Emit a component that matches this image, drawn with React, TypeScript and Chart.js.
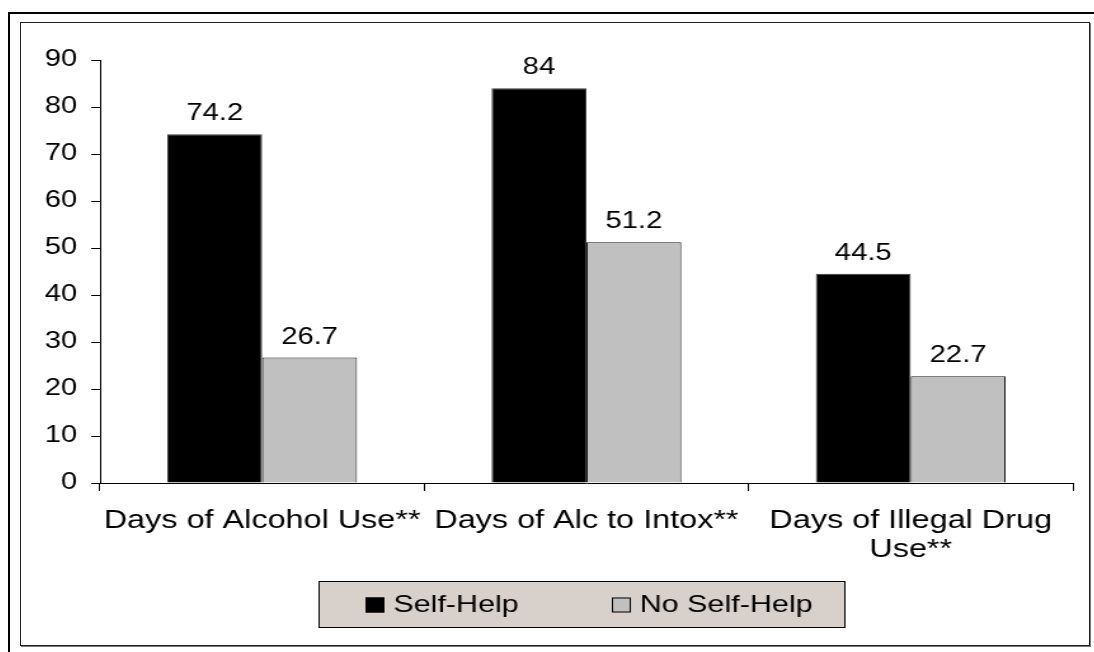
import React, { useEffect, useRef } from "react";
import { Chart, registerables } from "chart.js";

Chart.register(...registerables);

// ---- data ----
const categories: (string | string[])[] = [
  "Days of Alcohol Use**",
  "Days of Alc to Intox**",
  ["Days of Illegal Drug", "Use**"],
];
const seriesNames = ["Self-Help", "No Self-Help"];
const selfHelp = [74.2, 84, 44.5];
const noSelfHelp = [26.7, 51.2, 22.7];
const yMin = 0;
const yMax = 90;
const yStep = 10;

// ---- styling ----
const FONT = "'Liberation Sans', Arial, Helvetica, sans-serif";
const SX = 1.27; // horizontal stretch of the original picture
const CW = 843;
const CH = 624;

const valueLabels = {
  id: "valueLabels",
  afterDatasetsDraw(chart: any) {
    const ctx = chart.ctx;
    ctx.save();
    ctx.font = `23px ${FONT}`;
    ctx.fillStyle = "#000";
    ctx.textAlign = "center";
    ctx.textBaseline = "alphabetic";
    chart.data.datasets.forEach((ds: any, di: number) => {
      const meta = chart.getDatasetMeta(di);
      meta.data.forEach((el: any, i: number) => {
        ctx.fillText(String(ds.data[i]), el.x, el.y - 14);
      });
    });
    ctx.restore();
  },
};

const boxedLegend = {
  id: "boxedLegend",
  afterDraw(chart: any) {
    const ctx = chart.ctx;
    const boxL = 235, boxR = 650, boxT = 559, boxB = 606;
    ctx.save();
    ctx.fillStyle = "#D8D0CA";
    ctx.fillRect(boxL, boxT, boxR - boxL, boxB - boxT);
    ctx.strokeStyle = "#000";
    ctx.lineWidth = 1;
    ctx.strokeRect(boxL + 0.5, boxT + 0.5, boxR - boxL - 1, boxB - boxT - 1);
    const cy = (boxT + boxB) / 2;
    const itemX = [272, 466];
    ctx.font = `24px ${FONT}`;
    ctx.textBaseline = "middle";
    ctx.textAlign = "left";
    chart.data.datasets.forEach((ds: any, di: number) => {
      const x = itemX[di];
      ctx.fillStyle = ds.backgroundColor;
      ctx.fillRect(x, cy - 7, 15, 15);
      ctx.strokeStyle = "#000";
      ctx.strokeRect(x + 0.5, cy - 6.5, 14, 14);
      ctx.fillStyle = "#000";
      ctx.fillText(ds.label, x + 22, cy + 1);
    });
    ctx.restore();
  },
};

export default function App() {
  const ref = useRef<HTMLCanvasElement | null>(null);

  useEffect(() => {
    if (!ref.current) return;
    const chart = new Chart(ref.current, {
      type: "bar",
      data: {
        labels: categories,
        datasets: [
          {
            label: seriesNames[0],
            data: selfHelp,
            backgroundColor: "#000000",
            borderColor: "#3a3a3a",
            borderWidth: 1,
          },
          {
            label: seriesNames[1],
            data: noSelfHelp,
            backgroundColor: "#C0C0C0",
            borderColor: "#1a1a1a",
            borderWidth: 1,
          },
        ],
      },
      options: {
        responsive: false,
        animation: false,
        layout: { padding: { left: 13, right: 14, top: 38, bottom: 63 } },
        plugins: {
          legend: { display: false },
          tooltip: { enabled: false },
        },
        datasets: {
          bar: { categoryPercentage: 0.585, barPercentage: 1 },
        },
        scales: {
          x: {
            type: "category",
            offset: true,
            afterFit: (s: any) => {
              s.height = 100;
            },
            grid: {
              offset: true,
              drawOnChartArea: false,
              drawTicks: true,
              tickLength: 8,
              color: "#000",
              tickColor: "#000",
            },
            border: { color: "#000", width: 1 },
            ticks: {
              color: "#000",
              font: { family: FONT, size: 25.5, lineHeight: 1.13 },
              padding: 16,
              maxRotation: 0,
              autoSkip: false,
            },
          },
          y: {
            min: yMin,
            max: yMax,
            afterFit: (s: any) => {
              s.width = 50;
            },
            grid: {
              drawOnChartArea: false,
              drawTicks: true,
              tickLength: 7,
              color: "#000",
              tickColor: "#000",
            },
            border: { color: "#000", width: 1 },
            ticks: {
              stepSize: yStep,
              color: "#000",
              font: { family: FONT, size: 23 },
              padding: 11,
            },
          },
        },
      },
      plugins: [valueLabels, boxedLegend],
    });
    return () => chart.destroy();
  }, []);

  return (
    <div
      style={{
        position: "fixed",
        left: 0,
        top: 0,
        width: 1094,
        height: 652,
        background: "#fff",
        overflow: "hidden",
      }}
    >
      <div
        style={{
          position: "absolute",
          left: 8,
          top: 12,
          width: 1200,
          height: 800,
          border: "2px solid #000",
          boxSizing: "border-box",
        }}
      />
      <div
        style={{
          position: "absolute",
          left: 20,
          top: 22,
          width: 1070,
          height: 624,
          border: "1px solid #222",
          boxShadow: "1px 1px 0 #777",
          boxSizing: "border-box",
          background: "#fff",
        }}
      />
      <div
        style={{
          position: "absolute",
          left: 20,
          top: 22,
          width: CW,
          height: CH,
          transform: `scaleX(${SX})`,
          transformOrigin: "0 0",
        }}
      >
        <canvas
          ref={ref}
          width={CW}
          height={CH}
          style={{ width: CW, height: CH, display: "block" }}
        />
      </div>
    </div>
  );
}
